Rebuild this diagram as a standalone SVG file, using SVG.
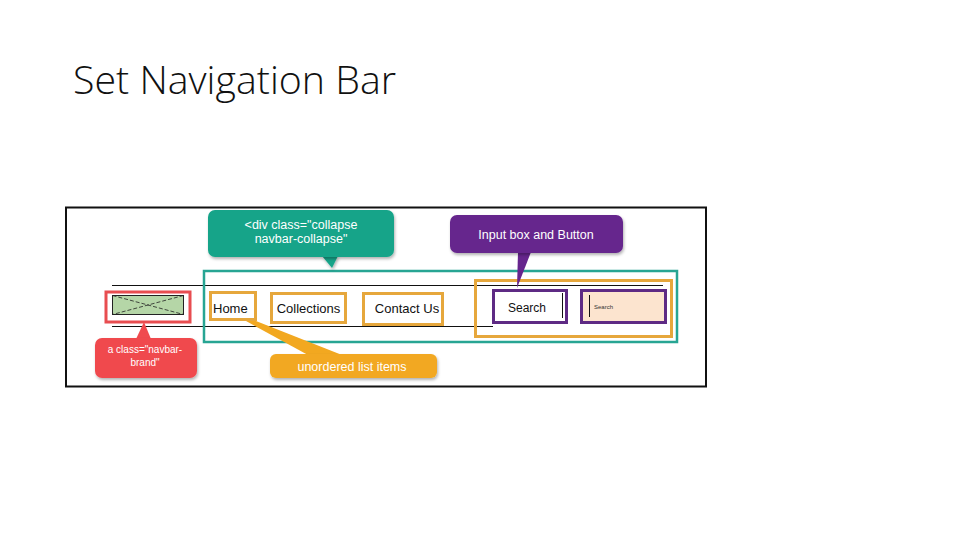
<svg xmlns="http://www.w3.org/2000/svg" width="960" height="540" viewBox="0 0 960 540">
<defs>
<filter id="sh" x="-10%" y="-10%" width="130%" height="140%">
<feDropShadow dx="1" dy="2" stdDeviation="1.5" flood-color="#000" flood-opacity="0.3"/>
</filter>
</defs>
<style>
.title{font-family:"Open Sans","Liberation Sans",sans-serif;font-size:38px;fill:#111;font-weight:300}
.nav{font-family:"Liberation Sans",Arial,sans-serif;font-size:13px;fill:#111}
.ct{font-family:"Liberation Sans",Arial,sans-serif;font-size:12.5px;fill:#fff;text-anchor:middle}
.ct.sm{font-size:10px}
.li{fill:#fff;stroke:#e6a73c;stroke-width:3}
.pu{stroke:#5e2a84;stroke-width:3}
.ln{stroke:#111;stroke-width:1}
</style>
<rect width="960" height="540" fill="#fff"/>
<text class="title" x="73" y="94" textLength="323" lengthAdjust="spacingAndGlyphs">Set Navigation Bar</text>

<g id="frame">
<rect x="66" y="207.5" width="640" height="179" fill="#fff" stroke="#111" stroke-width="2"/>
</g>

<g id="navlines">
<line class="ln" x1="112" y1="285.5" x2="663" y2="285.5"/>
<line class="ln" x1="112" y1="326.5" x2="493" y2="326.5"/>
</g>

<g id="collapse-box">
<rect x="204" y="271" width="473" height="71" fill="none" stroke="#27a593" stroke-width="2.5"/>
</g>

<g id="brand">
<rect x="106" y="292" width="84" height="30" fill="#fff" stroke="#e84d50" stroke-width="3"/>
<rect x="112.5" y="295.5" width="71" height="19" fill="#b5d6a7" stroke="#222" stroke-width="1"/>
<line x1="112.5" y1="295.5" x2="183.5" y2="314.5" stroke="#222" stroke-width="0.8" stroke-dasharray="4,2"/>
<line x1="183.5" y1="295.5" x2="112.5" y2="314.5" stroke="#222" stroke-width="0.8" stroke-dasharray="4,2"/>
</g>

<g id="home">
<rect class="li" x="210.5" y="292.5" width="45" height="27"/>
<text class="nav" x="213" y="312.5">Home</text>
</g>
<g id="collections">
<rect class="li" x="271.5" y="293.5" width="74" height="29"/>
<text class="nav" x="308.5" y="313" text-anchor="middle">Collections</text>
</g>
<g id="contact">
<rect class="li" x="363.5" y="293.5" width="79" height="31"/>
<text class="nav" x="407" y="313" text-anchor="middle">Contact Us</text>
</g>

<g id="search-group">
<rect x="475.5" y="280.5" width="196" height="56" fill="none" stroke="#e6a73c" stroke-width="3"/>
</g>
<g id="search-button">
<rect class="pu" x="493.5" y="290.5" width="73" height="32" fill="#fff"/>
<line x1="562.5" y1="293" x2="562.5" y2="318" stroke="#111" stroke-width="1"/>
<text class="nav" x="527" y="311.5" text-anchor="middle" style="font-size:12px">Search</text>
</g>
<g id="search-input">
<rect class="pu" x="581.5" y="290.5" width="84" height="32" fill="#fce4cf"/>
<line x1="589.5" y1="295" x2="589.5" y2="317" stroke="#111" stroke-width="1"/>
<text x="594" y="309" font-family="Liberation Sans, Arial, sans-serif" font-size="6" fill="#333">Search</text>
</g>

<g id="connectors">
<polygon points="322,256 338,256 332,268" fill="#17a489" filter="url(#sh)"/>
<polygon points="136,339 151,339 144,322" fill="#f04a4e"/>
<polygon points="246,321 256,321 342,355 308,355" fill="#f2a820"/>
<polygon points="518,252 531,252 517,288" fill="#66258d"/>
</g>

<g id="callout-collapse">
<rect x="208" y="210" width="186" height="47" rx="7" fill="#17a489" filter="url(#sh)"/>
<text class="ct" x="301" y="229">&lt;div class="collapse</text>
<text class="ct" x="301" y="243">navbar-collapse"</text>
</g>
<g id="callout-brand">
<rect x="95" y="338" width="102" height="40" rx="7" fill="#f04a4e" filter="url(#sh)"/>
<text class="ct sm" x="145" y="353">a class="navbar-</text>
<text class="ct sm" x="145" y="365.5">brand"</text>
</g>
<g id="callout-list">
<rect x="270" y="354" width="167" height="24" rx="6" fill="#f2a820" filter="url(#sh)"/>
<text class="ct" x="352" y="370.5">unordered list items</text>
</g>
<g id="callout-input">
<rect x="450" y="215" width="173" height="38" rx="7" fill="#66258d" filter="url(#sh)"/>
<text class="ct" x="536" y="239">Input box and Button</text>
</g>
</svg>
